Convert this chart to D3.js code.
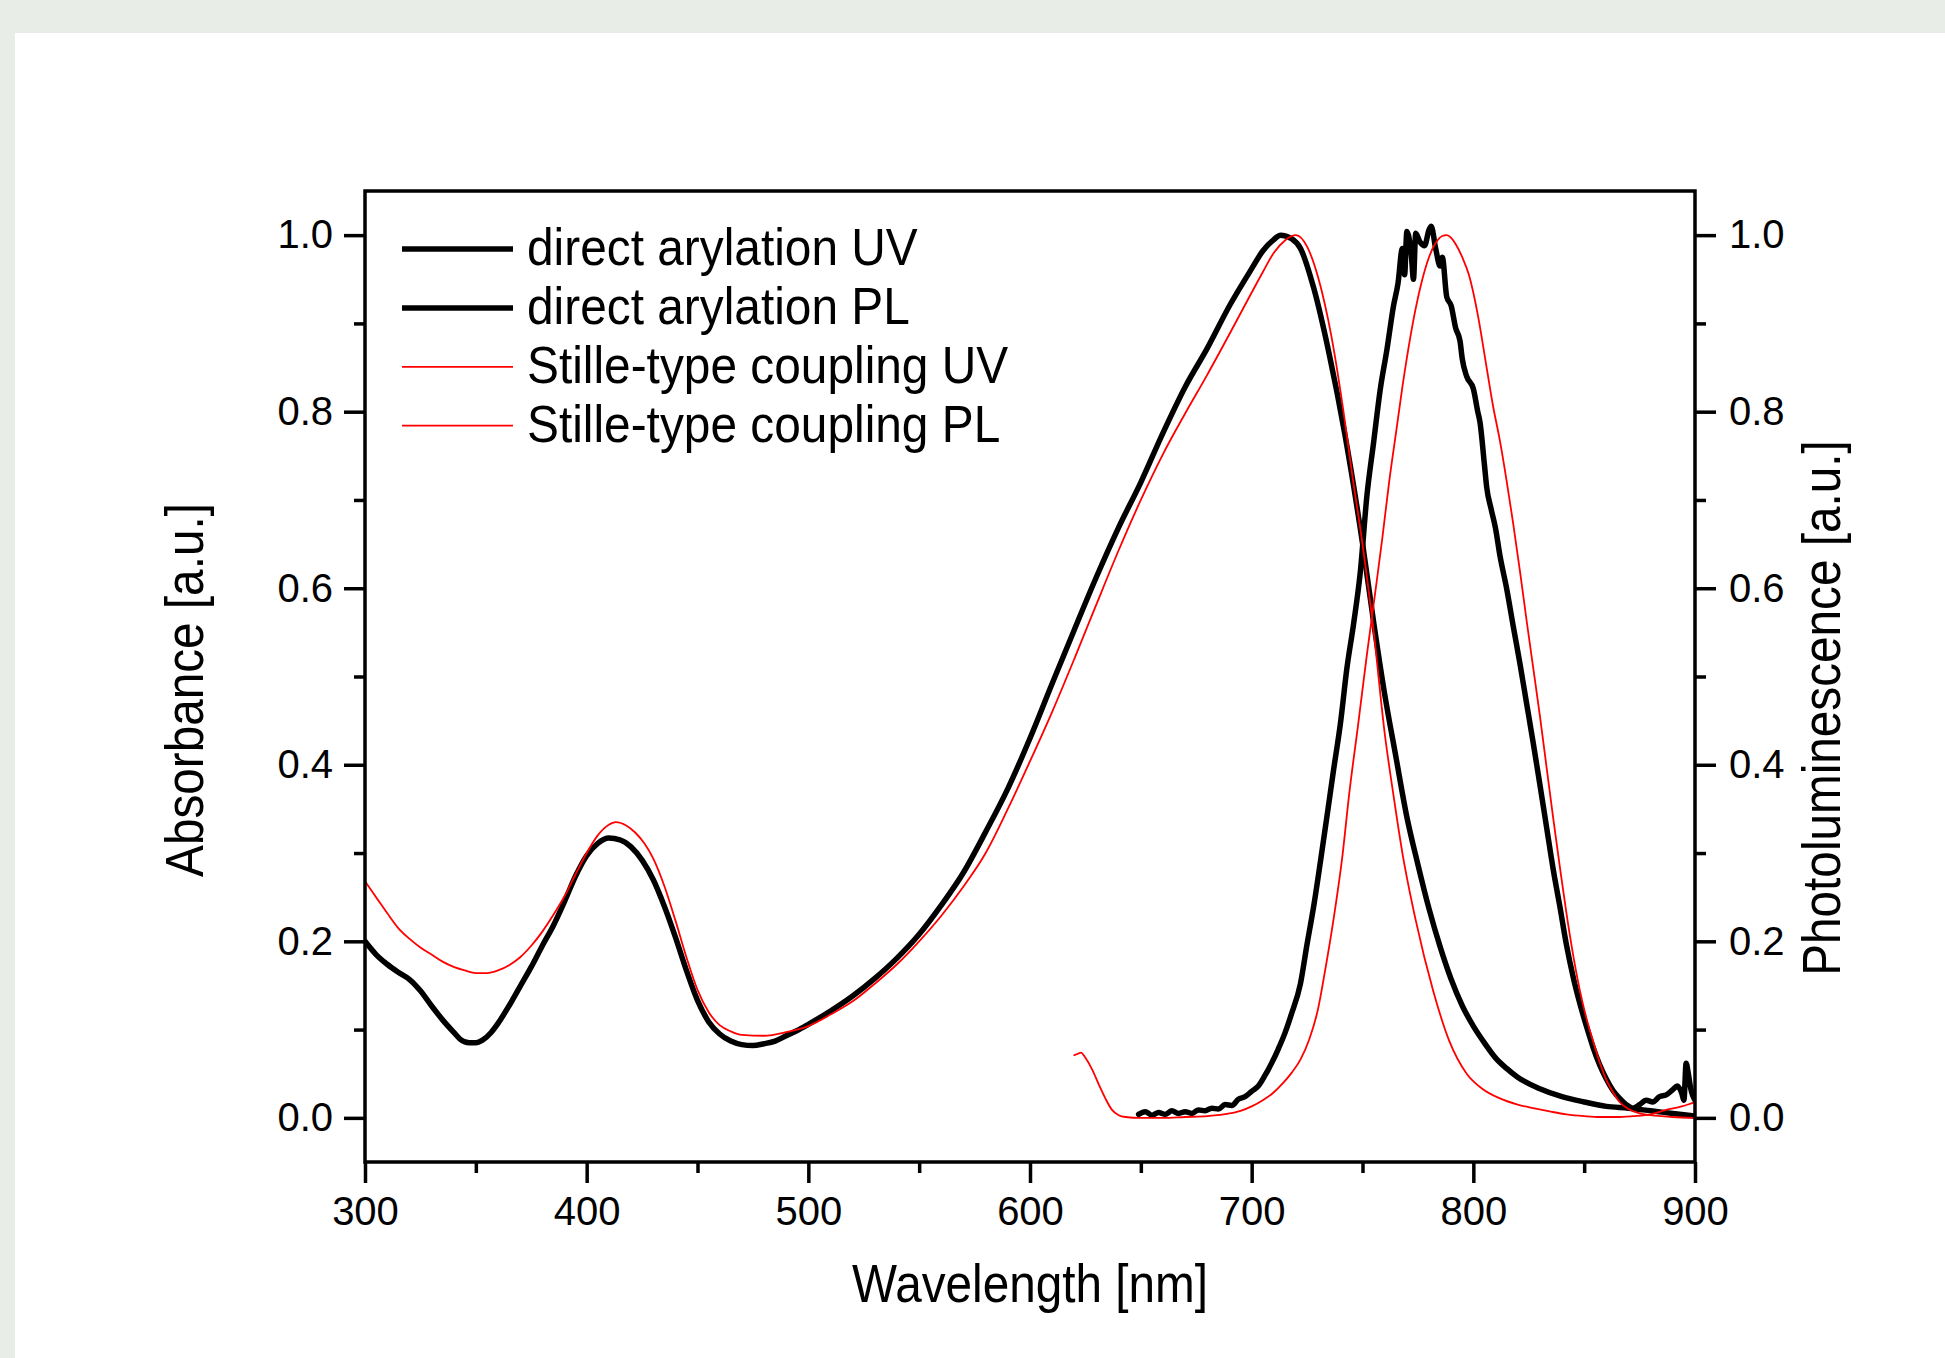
<!DOCTYPE html>
<html>
<head>
<meta charset="UTF-8">
<title>UV / PL spectra</title>
<script src="https://d3js.org/d3.v7.min.js"></script>
<style>
    body { margin: 0; background: #e8ede7; }
    svg { display: block; }
    text { font-family: "Liberation Sans", Arial, Helvetica, sans-serif; fill: #000; }
</style>
</head>
<body>
<svg width="1945" height="1358" id="mainsvg"></svg>
<script>
// ---- data: wavelength [nm] and normalised intensity ----
// direct arylation UV (left axis)
const daUvX = [300, 305, 310, 315, 320, 325, 330, 335, 340, 343, 347, 350, 353, 357, 360, 365, 370, 375, 380, 385,
    390, 395, 400, 405, 410, 415, 420, 425, 430, 435, 440, 445, 450, 455, 460, 465, 470, 475, 480, 485,
    490, 495, 500, 510, 520, 530, 540, 550, 560, 570, 580, 590, 600, 610, 620, 630, 640, 650, 660, 670,
    680, 690, 700, 705, 710, 713, 718, 722, 728, 735, 742, 750, 755, 760, 765, 770, 775, 780, 785, 790,
    795, 800, 805, 810, 815, 820, 830, 840, 850, 860, 870, 880, 890, 900];
const daUvY = [0.200, 0.185, 0.174, 0.165, 0.157, 0.144, 0.127, 0.111, 0.097, 0.089, 0.085, 0.085, 0.088, 0.097, 0.107, 0.127, 0.149, 0.171, 0.195, 0.218,
    0.245, 0.274, 0.297, 0.311, 0.317, 0.315, 0.307, 0.292, 0.270, 0.240, 0.205, 0.167, 0.133, 0.109, 0.095, 0.087, 0.083, 0.082, 0.084, 0.087,
    0.093, 0.099, 0.106, 0.121, 0.138, 0.158, 0.181, 0.208, 0.241, 0.278, 0.324, 0.373, 0.430, 0.492, 0.553, 0.613, 0.669, 0.720, 0.776, 0.828,
    0.872, 0.920, 0.962, 0.982, 0.995, 1.000, 0.996, 0.985, 0.940, 0.865, 0.775, 0.651, 0.562, 0.480, 0.410, 0.341, 0.287, 0.237, 0.194, 0.157,
    0.127, 0.104, 0.085, 0.068, 0.056, 0.046, 0.033, 0.024, 0.018, 0.013, 0.011, 0.008, 0.005, 0.002];

// direct arylation PL (right axis)
const daPlX = [649, 652, 655, 658, 661, 664, 667, 670, 673, 676, 679, 682, 685, 688, 691, 694, 697, 700, 703, 706,
    709, 712, 715, 718, 722, 725, 728, 731, 734, 737, 740, 743, 746, 749, 752, 755, 758, 761, 764, 766,
    768, 769, 770, 772, 773, 774, 776, 778, 780, 781, 783, 785, 786, 788, 790, 792, 794, 795, 797, 800,
    802, 803, 805, 806, 808, 810, 812, 815, 818, 821, 824, 827, 830, 833, 836, 839, 842, 845, 848, 851,
    854, 857, 860, 863, 866, 869, 872, 875, 878, 881, 884, 887, 890, 892, 894, 895, 896, 897, 898, 900];
const daPlY = [0.004, 0.007, 0.003, 0.006, 0.004, 0.008, 0.005, 0.007, 0.005, 0.009, 0.008, 0.011, 0.010, 0.015, 0.014, 0.021, 0.024, 0.030, 0.036, 0.048,
    0.062, 0.078, 0.096, 0.118, 0.152, 0.197, 0.240, 0.290, 0.342, 0.395, 0.446, 0.510, 0.560, 0.618, 0.705, 0.765, 0.825, 0.870, 0.920, 0.945,
    0.985, 0.955, 1.004, 0.978, 0.950, 1.002, 0.992, 0.988, 1.006, 1.010, 0.985, 0.965, 0.975, 0.930, 0.920, 0.895, 0.880, 0.860, 0.840, 0.826,
    0.800, 0.788, 0.740, 0.715, 0.690, 0.668, 0.637, 0.600, 0.557, 0.515, 0.470, 0.425, 0.378, 0.330, 0.282, 0.240, 0.196, 0.160, 0.130, 0.104,
    0.080, 0.060, 0.044, 0.031, 0.022, 0.015, 0.011, 0.015, 0.020, 0.018, 0.024, 0.026, 0.032, 0.036, 0.028, 0.020, 0.062, 0.050, 0.034, 0.020];

// Stille-type coupling UV (left axis)
const stUvX = [300, 305, 310, 315, 320, 325, 330, 335, 340, 345, 350, 355, 360, 365, 370, 375, 380, 385, 390, 395,
    400, 405, 410, 413, 418, 422, 426, 430, 435, 440, 445, 450, 455, 460, 465, 470, 480, 490, 500, 510,
    520, 530, 540, 550, 560, 570, 580, 590, 600, 610, 620, 630, 640, 650, 660, 670, 680, 690, 700, 705,
    710, 715, 720, 725, 730, 736, 742, 745, 750, 755, 760, 764, 768, 774, 782, 789, 797, 804, 812, 820,
    827, 835, 842, 850, 857, 865, 872, 880, 887, 894, 900];
const stUvY = [0.268, 0.250, 0.232, 0.215, 0.203, 0.193, 0.185, 0.177, 0.171, 0.167, 0.164, 0.164, 0.167, 0.173, 0.182, 0.195, 0.211, 0.230, 0.251, 0.276,
    0.300, 0.320, 0.332, 0.335, 0.331, 0.323, 0.311, 0.294, 0.263, 0.224, 0.182, 0.145, 0.120, 0.105, 0.098, 0.094, 0.093, 0.097, 0.104, 0.117,
    0.132, 0.152, 0.174, 0.200, 0.229, 0.262, 0.300, 0.350, 0.404, 0.460, 0.520, 0.582, 0.643, 0.700, 0.752, 0.798, 0.842, 0.888, 0.935, 0.958,
    0.980, 0.994, 1.000, 0.987, 0.952, 0.885, 0.790, 0.735, 0.650, 0.552, 0.436, 0.365, 0.300, 0.224, 0.143, 0.088, 0.050, 0.033, 0.022, 0.015,
    0.011, 0.007, 0.004, 0.002, 0.001, 0.001, 0.002, 0.004, 0.009, 0.013, 0.018];

// Stille-type coupling PL (right axis)
const stPlX = [620, 622, 623, 625, 628, 631, 634, 637, 640, 643, 650, 660, 670, 680, 690, 695, 700, 705, 710, 714,
    718, 722, 726, 730, 733, 737, 741, 744, 748, 752, 756, 759, 762, 765, 768, 771, 774, 777, 780, 783,
    786, 788, 790, 792, 795, 798, 802, 806, 809, 812, 815, 818, 821, 824, 827, 830, 833, 836, 839, 842,
    845, 848, 851, 854, 857, 860, 863, 866, 870, 875, 880, 890, 900];
const stPlY = [0.071, 0.073, 0.074, 0.068, 0.055, 0.038, 0.022, 0.009, 0.003, 0.001, 0.000, 0.000, 0.001, 0.002, 0.005, 0.008, 0.013, 0.020, 0.029, 0.039,
    0.051, 0.066, 0.089, 0.124, 0.165, 0.226, 0.298, 0.367, 0.445, 0.525, 0.600, 0.658, 0.720, 0.774, 0.828, 0.876, 0.917, 0.950, 0.975, 0.991,
    0.999, 1.000, 0.997, 0.990, 0.975, 0.955, 0.910, 0.850, 0.805, 0.767, 0.722, 0.673, 0.620, 0.564, 0.510, 0.456, 0.398, 0.340, 0.285, 0.232,
    0.185, 0.145, 0.113, 0.087, 0.063, 0.043, 0.029, 0.018, 0.010, 0.005, 0.003, 0.001, 0.000];

const legendLabels = ['direct arylation UV', 'direct arylation PL', 'Stille-type coupling UV', 'Stille-type coupling PL'];
const xTicks = [300, 400, 500, 600, 700, 800, 900];
const xMinorTicks = [350, 450, 550, 650, 750, 850];
const yTicks = [0.0, 0.2, 0.4, 0.6, 0.8, 1.0];
const yMinorTicks = [0.1, 0.3, 0.5, 0.7, 0.9];

// ---- layout ----
const svg = d3.select('#mainsvg');
const width = +svg.attr('width');
const height = +svg.attr('height');
const margin = {top: 191, right: 250, bottom: 196, left: 365};
const innerWidth = width - margin.left - margin.right;
const innerHeight = height - margin.top - margin.bottom;
const fontFamily = '"Liberation Sans", Arial, Helvetica, sans-serif';

// white sheet on the grey page (the original has a thin grey band on top and left)
svg.append('rect').attr('x', 15).attr('y', 33).attr('width', width - 15).attr('height', height - 33).attr('fill', '#ffffff');

const xScale = d3.scaleLinear().domain([300, 900]).range([0, innerWidth]);
const yScale = d3.scaleLinear().domain([-0.05, 1.05]).range([innerHeight, 0]);
const yScaleR = d3.scaleLinear().domain([-0.05, 1.05]).range([innerHeight, 0]);

const g = svg.append('g').attr('transform', `translate(${margin.left}, ${margin.top})`);

const styleAxis = function(sel, size) {
    sel.select('.domain').remove();
    sel.selectAll('.tick line').attr('stroke', '#000').attr('stroke-width', 3.5);
    sel.selectAll('.tick text').attr('font-size', size).attr('font-family', fontFamily).attr('fill', '#000');
};
// minor ticks carry no labels, drop the empty text nodes
const minorAxis = function(sel) {
    styleAxis(sel, 40);
    sel.selectAll('.tick text').remove();
};

// bottom axis: major + minor ticks
g.append('g').attr('transform', `translate(0, ${innerHeight})`)
    .call(d3.axisBottom(xScale).tickValues(xTicks).tickSize(21).tickPadding(14).tickFormat(d3.format('d')))
    .call(s => styleAxis(s, 40));
g.append('g').attr('transform', `translate(0, ${innerHeight})`)
    .call(d3.axisBottom(xScale).tickValues(xMinorTicks).tickSize(11))
    .call(minorAxis);

// left axis
g.append('g')
    .call(d3.axisLeft(yScale).tickValues(yTicks).tickSize(21).tickPadding(11).tickFormat(d3.format('.1f')))
    .call(s => styleAxis(s, 40));
g.append('g')
    .call(d3.axisLeft(yScale).tickValues(yMinorTicks).tickSize(11))
    .call(minorAxis);

// right axis
g.append('g').attr('transform', `translate(${innerWidth}, 0)`)
    .call(d3.axisRight(yScaleR).tickValues(yTicks).tickSize(21).tickPadding(13).tickFormat(d3.format('.1f')))
    .call(s => styleAxis(s, 40));
g.append('g').attr('transform', `translate(${innerWidth}, 0)`)
    .call(d3.axisRight(yScaleR).tickValues(yMinorTicks).tickSize(11))
    .call(minorAxis);

// clip the spectra to the frame
g.append('clipPath').attr('id', 'plotClip')
    .append('rect').attr('width', innerWidth).attr('height', innerHeight);

const zip = (xs, ys) => xs.map((x, i) => [x, ys[i]]);
const series = [
    {name: legendLabels[0], data: zip(daUvX, daUvY), y: yScale, color: '#000000', w: 5.5},
    {name: legendLabels[1], data: zip(daPlX, daPlY), y: yScaleR, color: '#000000', w: 5.5},
    {name: legendLabels[2], data: zip(stUvX, stUvY), y: yScale, color: '#ff0000', w: 1.8},
    {name: legendLabels[3], data: zip(stPlX, stPlY), y: yScaleR, color: '#ff0000', w: 1.8}
];

const lines = g.append('g').attr('clip-path', 'url(#plotClip)');
series.forEach(s => {
    const line = d3.line()
        .curve(d3.curveMonotoneX)
        .x(d => xScale(d[0]))
        .y(d => s.y(d[1]));
    lines.append('path')
        .datum(s.data)
        .attr('d', line)
        .attr('fill', 'none')
        .attr('stroke', s.color)
        .attr('stroke-width', s.w)
        .attr('stroke-linejoin', 'round')
        .attr('stroke-linecap', 'round');
});

// frame
g.append('rect')
    .attr('width', innerWidth).attr('height', innerHeight)
    .attr('fill', 'none').attr('stroke', '#000').attr('stroke-width', 3.5);

// text in the original is slightly condensed, so squeeze it along its own direction
const squeezedText = function(parent, x, y, rot, sx, size, str) {
    return parent.append('text')
        .attr('transform', `translate(${x}, ${y}) rotate(${rot}) scale(${sx}, 1)`)
        .attr('text-anchor', 'middle')
        .attr('font-size', size)
        .attr('font-family', fontFamily)
        .text(str);
};

squeezedText(svg, margin.left + innerWidth / 2, 1302, 0, 0.9, 53, 'Wavelength [nm]');
squeezedText(svg, 203, 690, -90, 0.9, 53, 'Absorbance [a.u.]');
squeezedText(svg, 1840, 708, -90, 0.9, 53, 'Photoluminescence [a.u.]');

// legend
const legend = g.selectAll('.legend')
    .data(series)
    .enter().append('g')
    .attr('class', 'legend')
    .attr('transform', (d, i) => `translate(${402 - margin.left}, ${249 - margin.top + i * 58.9})`);

legend.append('line')
    .attr('x1', 0).attr('x2', 111)
    .attr('y1', 0).attr('y2', 0)
    .attr('stroke', d => d.color)
    .attr('stroke-width', d => d.w);

legend.append('text')
    .attr('transform', 'translate(125, 16) scale(0.92, 1)')
    .attr('font-size', 52)
    .attr('font-family', fontFamily)
    .text(d => d.name);
</script>
</body>
</html>
